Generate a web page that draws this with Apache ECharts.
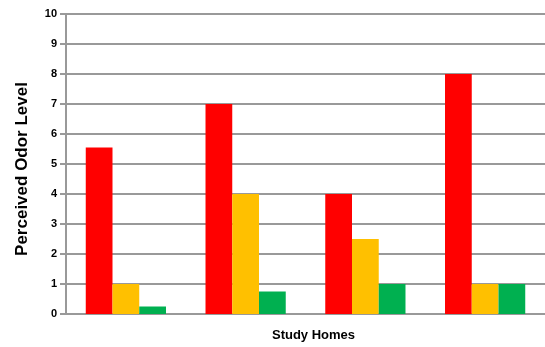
<!DOCTYPE html>
<html><head><meta charset="utf-8">
<script src="https://cdn.jsdelivr.net/npm/echarts@6/dist/echarts.min.js"></script>
<style>html,body{margin:0;padding:0;background:#fff;overflow:hidden}#c{width:545px;height:347px}</style>
</head><body><div id="c"></div>
<script>
var categories = ['Home 1', 'Home 2', 'Home 3', 'Home 4'];
var redValues = [5.55, 7, 4, 8];
var yellowValues = [1, 4, 2.5, 1];
var greenValues = [0.25, 0.75, 1, 1];
var yTicks = [0, 1, 2, 3, 4, 5, 6, 7, 8, 9, 10];

var chart = echarts.init(document.getElementById('c'), null, {renderer: 'canvas'});
var font = 'Liberation Sans, Arial, sans-serif';
chart.setOption({
  animation: false,
  grid: {left: 66, right: -5, top: 14, bottom: 31, containLabel: false},
  xAxis: {
    type: 'category', data: categories,
    name: 'Study Homes', nameLocation: 'middle', nameGap: 15,
    nameTextStyle: {fontFamily: font, fontWeight: 'bold', fontSize: 13, color: '#000', padding: [0, 0, 0, 16]},
    axisLine: {lineStyle: {color: '#999', width: 2}},
    axisTick: {show: false},
    axisLabel: {show: false}
  },
  yAxis: {
    type: 'value', min: yTicks[0], max: yTicks[yTicks.length - 1], interval: 1,
    name: 'Perceived Odor Level', nameLocation: 'middle', nameGap: 35, nameRotate: 90,
    nameTextStyle: {fontFamily: font, fontWeight: 'bold', fontSize: 17, color: '#000', padding: [0, 10, 0, 0]},
    axisLine: {show: true, lineStyle: {color: '#999', width: 2}},
    axisTick: {show: true, length: 6, lineStyle: {color: '#999', width: 2}},
    axisLabel: {fontFamily: font, fontWeight: 'bold', fontSize: 11, color: '#000', margin: 9},
    splitLine: {lineStyle: {color: '#999', width: 2}}
  },
  series: [
    {type: 'bar', data: redValues, itemStyle: {color: '#FF0000'}, barGap: '0%', barCategoryGap: '33%'},
    {type: 'bar', data: yellowValues, itemStyle: {color: '#FFC000'}},
    {type: 'bar', data: greenValues, itemStyle: {color: '#00B050'}}
  ]
});
</script></body></html>
